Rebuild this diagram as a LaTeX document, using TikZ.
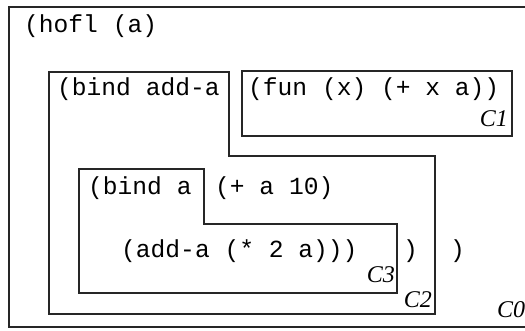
\documentclass[tikz,border=0pt]{standalone}
\usepackage{fontspec}
\newfontfamily\codefont{Liberation Mono}
\newfontfamily\ctxfont{Liberation Serif}

\tikzset{
  code/.style={anchor=base west,inner sep=0pt,font=\codefont\fontsize{24.6}{28}\selectfont},
  ctxname/.style={anchor=base east,inner sep=0pt,font=\ctxfont\itshape\fontsize{24}{28}\selectfont},
  frame/.style={draw=black!85,line width=2pt}
}

\begin{document}
\begin{tikzpicture}[x=1pt,y=-1pt]
% page size of the reference
\useasboundingbox (0,0) rectangle (525,331);

% outer context C0
\draw[frame] (9,7) rectangle (540,327);

% context C2, with a step at its top right
\draw[frame] (49,72) -- (229,72) -- (229,156) -- (435,156) -- (435,314) -- (49,314) -- cycle;

% context C1
\draw[frame] (242,71) rectangle (512,136);

% context C3, also stepped
\draw[frame] (79,169) -- (204,169) -- (204,224) -- (397,224) -- (397,293) -- (79,293) -- cycle;

% the code itself
\node[code] (hofl) at (24,33) {(hofl (a)};
\node[code] (bindadd) at (57,96) {(bind add-a};
\node[code] (fun) at (248,96) {(fun (x) (+ x a))};
\node[code] (binda) at (88,195) {(bind a};
\node[code] (plus) at (215,195) {(+ a 10)};
\node[code] (call) at (121,258) {(add-a (* 2 a)))};
\node[code] (closetwo) at (403,258) {)};
\node[code] (closezero) at (450,258) {)};

% context names
\node[ctxname] (cone) at (508,127) {C1};
\node[ctxname] (cthree) at (395,283) {C3};
\node[ctxname] (ctwo) at (432,307) {C2};
\node[ctxname,anchor=base west] (czero) at (497,317) {C0};

\end{tikzpicture}
\end{document}
